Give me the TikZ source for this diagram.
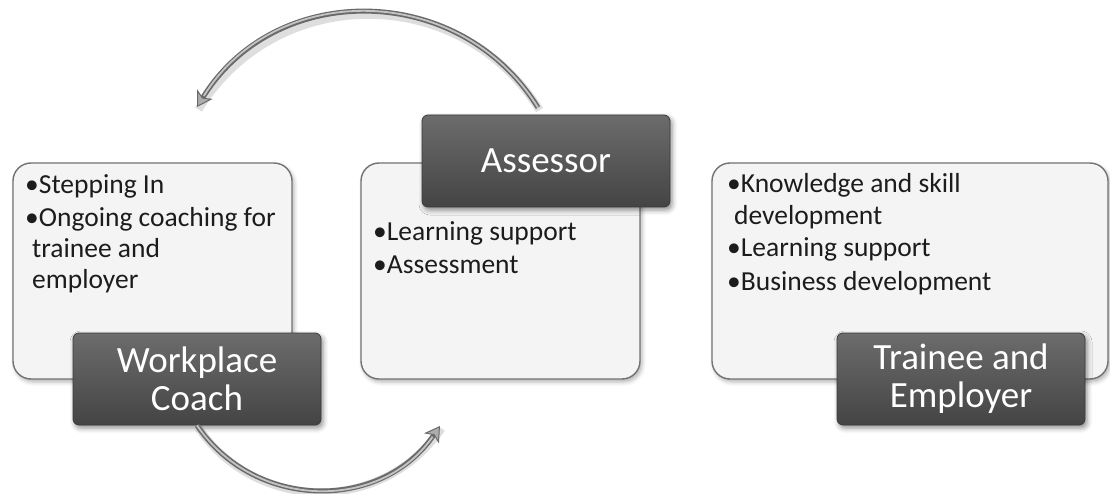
\documentclass[tikz,border=0pt]{standalone}
\usepackage{fontspec}
\setmainfont{Carlito}
\usetikzlibrary{arrows.meta,shadows.blur}

\definecolor{panelfill}{HTML}{F4F4F4}
\definecolor{paneledge}{HTML}{727272}
\definecolor{roletop}{HTML}{6C6C6C}
\definecolor{rolebottom}{HTML}{444444}
\definecolor{roleedge}{HTML}{3A3A3A}
\definecolor{tubeedge}{HTML}{6A6A6A}
\definecolor{tubecore}{HTML}{C4C4C4}
\definecolor{inktext}{HTML}{1C1C1C}

\begin{document}
\begin{tikzpicture}[x=1pt,y=-1pt,
  panel/.style={draw=paneledge, line width=1.4pt, fill=panelfill,
    rounded corners=18pt, minimum height=216pt, inner sep=0pt,
    blur shadow={shadow xshift=2pt, shadow yshift=-3pt,
      shadow blur radius=4pt, shadow opacity=30}},
  role/.style={draw=roleedge, line width=0.8pt, top color=roletop,
    bottom color=rolebottom, rounded corners=6pt,
    minimum width=248pt, minimum height=92pt, inner sep=0pt,
    text=white, align=center, font=\fontsize{37}{38}\selectfont,
    blur shadow={shadow xshift=2pt, shadow yshift=-3pt,
      shadow blur radius=5pt, shadow opacity=45}},
  % anchored at the baseline of the last line
  items/.style={anchor=base west, inner sep=0pt, align=left,
    text=inktext, font=\fontsize{27.5}{31}\selectfont},
  looparrow/.style={line width=5pt, draw=tubeedge,
    -{Stealth[length=15pt, width=18pt, inset=4pt,
      fill=tubecore!75!tubeedge, line width=1pt]},
    preaction={draw=black, draw opacity=0.13, line width=8pt, -,
      transform canvas={shift={(1.5pt,-2.5pt)}}},
    postaction={draw=tubecore, line width=1.8pt, shorten >=13pt, -}}
]
\useasboundingbox (0,0) rectangle (1110,494);

% light content panels
\node[panel, minimum width=279pt] (coachpanel)    at (152.5,271) {};
\node[panel, minimum width=279pt] (assessorpanel) at (500.5,271) {};
\node[panel, minimum width=396pt] (traineepanel)  at (910,271) {};

% bullet lists
\node[items] (coachitems) at (25,288)
  {•Stepping In\\[2pt]•Ongoing coaching for\\\hspace*{7pt}trainee and\\\hspace*{7pt}employer};
\node[items] (assessoritems) at (373,273)
  {•Learning support\\[2pt]•Assessment};
\node[items] (traineeitems) at (727,290)
  {•Knowledge and skill\\\hspace*{7pt}development\\[2pt]•Learning support\\[2pt]•Business development};

% dark role labels
\node[role] (coach)    at (197,379) {Workplace\\Coach};
\node[role] (assessor) at (546,161) {Assessor};
\node[role] (trainee)  at (961,379) {Trainee and\\Employer};

% cycle arrows between roles
\coordinate (toptail) at ([shift={(-8,-7)}]assessor.north);
\coordinate (tophead) at (197,107);
\coordinate (bottomhead) at (440,426);
\draw[looparrow] (toptail) .. controls (459.7,-18.9) and (275.3,-19.9) .. (tophead);
\draw[looparrow] (coach.south) .. controls (255,510.6) and (381,511.8) .. (bottomhead);
\end{tikzpicture}
\end{document}
